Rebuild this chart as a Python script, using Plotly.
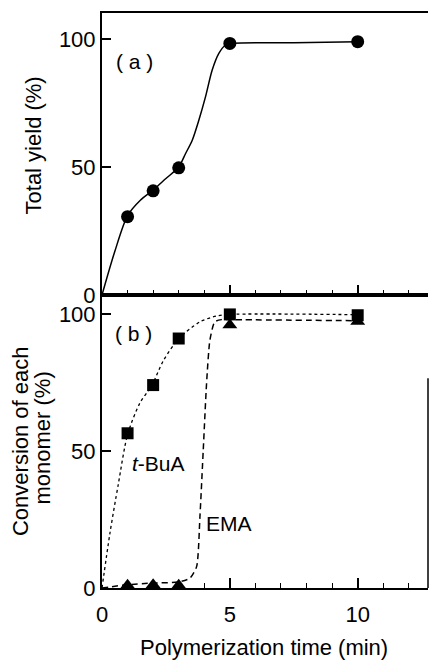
import plotly.graph_objects as go

# ---- data ----
time_pts = [1, 2, 3, 5, 10]
total_yield = [30.6, 40.7, 49.7, 98.3, 99.0]
tbua_conv = [56.5, 74.1, 91.1, 99.9, 99.6]
ema_conv = [1.0, 1.2, 1.0, 96.0, 97.3]

# hand-drawn guide curves
curve_a_x = [0, 0.5, 1, 1.5, 2, 2.5, 3, 3.27, 3.53, 3.79, 4.05, 4.31, 4.57, 4.83, 5, 7.5, 10]
curve_a_y = [0, 17, 31, 37, 41, 45.5, 50, 55.3, 60.5, 68.4, 77.5, 87.9, 94.4, 97.7, 98.3, 98.6, 99.0]

curve_tbua_x = [0, 0.31, 0.64, 1.0, 1.48, 1.95, 2.4, 3.0, 3.83, 4.48, 5.0, 10]
curve_tbua_y = [0, 20, 38, 56, 67.5, 74, 83, 91, 97.2, 99.3, 99.9, 99.8]

curve_ema_x = [0, 1, 2, 3, 3.44, 3.7, 3.83, 3.96, 4.09, 4.22, 4.41, 4.67, 5, 10]
curve_ema_y = [0, 1.2, 1.8, 2.2, 3.6, 7.8, 26, 50.4, 74.8, 90.5, 97.2, 98, 98, 97.6]

FONT = "Liberation Sans, Arial, Helvetica, sans-serif"
BLACK = "black"

fig = go.Figure()

# panel (a)
fig.add_trace(go.Scatter(x=curve_a_x, y=curve_a_y, mode="lines",
                         line=dict(color=BLACK, width=1.5, shape="spline", smoothing=0.8),
                         xaxis="x", yaxis="y", showlegend=False, hoverinfo="skip"))
fig.add_trace(go.Scatter(x=time_pts, y=total_yield, mode="markers",
                         marker=dict(symbol="circle", size=13, color=BLACK),
                         xaxis="x", yaxis="y", showlegend=False))

# panel (b)
fig.add_trace(go.Scatter(x=curve_tbua_x, y=curve_tbua_y, mode="lines",
                         line=dict(color=BLACK, width=1.3, dash="dot", shape="spline", smoothing=0.8),
                         xaxis="x2", yaxis="y2", showlegend=False, hoverinfo="skip"))
fig.add_trace(go.Scatter(x=curve_ema_x, y=curve_ema_y, mode="lines",
                         line=dict(color=BLACK, width=1.5, dash="6px,4px", shape="spline", smoothing=0.6),
                         xaxis="x2", yaxis="y2", showlegend=False, hoverinfo="skip"))
fig.add_trace(go.Scatter(x=time_pts, y=ema_conv, mode="markers",
                         marker=dict(symbol="triangle-up", size=13, color=BLACK),
                         xaxis="x2", yaxis="y2", showlegend=False))
fig.add_trace(go.Scatter(x=time_pts, y=tbua_conv, mode="markers",
                         marker=dict(symbol="square", size=12, color=BLACK),
                         xaxis="x2", yaxis="y2", showlegend=False))

split = 0.5096
xcommon = dict(range=[0, 12.75], tick0=0, dtick=5, ticks="inside", ticklen=10, tickwidth=1.5,
               tickcolor=BLACK, showline=True, linewidth=2, linecolor=BLACK, mirror=True,
               showgrid=False, zeroline=False,
               minor=dict(dtick=1, ticks="inside", ticklen=5, tickwidth=1.2, tickcolor=BLACK, showgrid=False),
               tickfont=dict(family=FONT, size=22, color=BLACK))
ycommon = dict(tickvals=[0, 50, 100], ticks="inside", ticklen=9, tickwidth=1.5, tickcolor=BLACK,
               showline=True, linewidth=2, linecolor=BLACK, mirror=False,
               showgrid=False, zeroline=False,
               tickfont=dict(family=FONT, size=22, color=BLACK))

fig.update_layout(
    width=430, height=660,
    margin=dict(l=102, r=2, t=13, b=72),
    paper_bgcolor="white", plot_bgcolor="white",
    font=dict(family=FONT, color=BLACK),
    xaxis=dict(domain=[0, 1], anchor="y", showticklabels=False, **xcommon),
    yaxis=dict(domain=[split, 1], anchor="x", range=[0, 110.2], **ycommon),
    xaxis2=dict(domain=[0, 1], anchor="y2", showticklabels=True, ticklabelstandoff=6, **xcommon),
    yaxis2=dict(domain=[0, split], anchor="x2", range=[0, 107], **ycommon),
)

ann = [
    dict(text="( a )", x=1.27, y=91.4, xref="x", yref="y", size=21),
    dict(text="( b )", x=1.23, y=93.1, xref="x2", yref="y2", size=21),
    dict(text="<i>t</i>-BuA", x=2.2, y=45.6, xref="x2", yref="y2", size=21),
    dict(text="EMA", x=4.96, y=23.7, xref="x2", yref="y2", size=21),
]
for a in ann:
    fig.add_annotation(text=a["text"], x=a["x"], y=a["y"], xref=a["xref"], yref=a["yref"],
                       showarrow=False, xanchor="center", yanchor="middle",
                       font=dict(family=FONT, size=a["size"], color=BLACK))

titles = [
    dict(text="Total yield (%)", x=-0.2117, y=0.7696, angle=-90),
    dict(text="Conversion of each", x=-0.2483, y=0.2557, angle=-90),
    dict(text="monomer (%)", x=-0.1810, y=0.2617, angle=-90),
    dict(text="Polymerization time (min)", x=0.497, y=-0.1043, angle=0),
]
for t in titles:
    fig.add_annotation(text=t["text"], x=t["x"], y=t["y"], xref="paper", yref="paper",
                       showarrow=False, xanchor="center", yanchor="middle", textangle=t["angle"],
                       font=dict(family=FONT, size=22, color=BLACK))

# right edge of lower frame (partially visible in the original)
fig.add_shape(type="line", xref="paper", yref="paper", x0=1, x1=1, y0=0, y1=0.365,
              line=dict(color=BLACK, width=1.5))

fig.write_html("out.html", config={"displayModeBar": False},
               post_script="document.body.style.margin='0';document.body.style.overflow='hidden';")
